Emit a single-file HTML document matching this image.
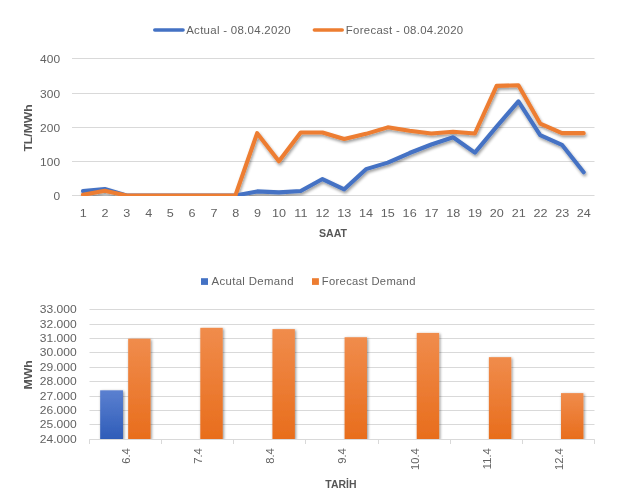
<!DOCTYPE html>
<html><head><meta charset="utf-8"><style>
html,body{margin:0;padding:0;background:#fff;width:625px;height:488px;overflow:hidden}
svg{display:block;will-change:transform;font-family:"Liberation Sans",sans-serif}
</style></head><body>
<svg width="625" height="488" viewBox="0 0 625 488">
<defs>
<filter id="sh" x="-10%" y="-10%" width="120%" height="130%">
<feGaussianBlur in="SourceAlpha" stdDeviation="1.4"/>
<feOffset dx="1" dy="1.8" result="b"/>
<feComponentTransfer><feFuncA type="linear" slope="0.4"/></feComponentTransfer>
<feMerge><feMergeNode/><feMergeNode in="SourceGraphic"/></feMerge>
</filter>
<linearGradient id="gb" x1="0" y1="0" x2="0" y2="1">
<stop offset="0" stop-color="#5b80d0"/><stop offset="1" stop-color="#2e5cb8"/>
</linearGradient>
<linearGradient id="go" x1="0" y1="0" x2="0" y2="1">
<stop offset="0" stop-color="#f08c4c"/><stop offset="1" stop-color="#e86d1c"/>
</linearGradient>
<filter id="shb" x="-30%" y="-10%" width="160%" height="120%">
<feGaussianBlur in="SourceAlpha" stdDeviation="1.5"/>
<feOffset dx="0.6" dy="0.6" result="b"/>
<feComponentTransfer><feFuncA type="linear" slope="0.45"/></feComponentTransfer>
<feMerge><feMergeNode/><feMergeNode in="SourceGraphic"/></feMerge>
</filter>
<clipPath id="pa2"><rect x="85" y="290" width="520" height="149"/></clipPath>
<clipPath id="pa1"><rect x="60" y="40" width="545" height="156"/></clipPath>
</defs>

<line x1="72" x2="594.5" y1="195.5" y2="195.5" stroke="#d9d9d9" stroke-width="1"/>
<line x1="72" x2="594.5" y1="161.5" y2="161.5" stroke="#d9d9d9" stroke-width="1"/>
<line x1="72" x2="594.5" y1="127.5" y2="127.5" stroke="#d9d9d9" stroke-width="1"/>
<line x1="72" x2="594.5" y1="93.5" y2="93.5" stroke="#d9d9d9" stroke-width="1"/>
<line x1="72" x2="594.5" y1="58.5" y2="58.5" stroke="#d9d9d9" stroke-width="1"/>
<text transform="translate(53.39,199.69) scale(1.0600,1)" font-size="11.27" fill="#626262">0</text>
<text transform="translate(40.10,165.69) scale(1.0600,1)" font-size="11.27" fill="#626262">100</text>
<text transform="translate(40.10,131.69) scale(1.0600,1)" font-size="11.27" fill="#626262">200</text>
<text transform="translate(40.10,97.69) scale(1.0600,1)" font-size="11.27" fill="#626262">300</text>
<text transform="translate(40.10,62.69) scale(1.0600,1)" font-size="11.27" fill="#626262">400</text>
<text transform="translate(79.64,217.00) scale(1.1200,1)" font-size="11.27" fill="#626262">1</text>
<text transform="translate(101.54,217.00) scale(1.1200,1)" font-size="11.27" fill="#626262">2</text>
<text transform="translate(123.37,217.00) scale(1.1200,1)" font-size="11.27" fill="#626262">3</text>
<text transform="translate(145.14,217.00) scale(1.1200,1)" font-size="11.27" fill="#626262">4</text>
<text transform="translate(166.85,217.00) scale(1.1200,1)" font-size="11.27" fill="#626262">5</text>
<text transform="translate(188.55,217.00) scale(1.1200,1)" font-size="11.27" fill="#626262">6</text>
<text transform="translate(210.39,217.00) scale(1.1200,1)" font-size="11.27" fill="#626262">7</text>
<text transform="translate(232.16,217.00) scale(1.1200,1)" font-size="11.27" fill="#626262">8</text>
<text transform="translate(253.99,217.00) scale(1.1200,1)" font-size="11.27" fill="#626262">9</text>
<text transform="translate(272.00,217.00) scale(1.1200,1)" font-size="11.27" fill="#626262">10</text>
<text transform="translate(294.30,217.00) scale(1.1200,1)" font-size="11.27" fill="#626262">11</text>
<text transform="translate(315.60,217.00) scale(1.1200,1)" font-size="11.27" fill="#626262">12</text>
<text transform="translate(337.31,217.00) scale(1.1200,1)" font-size="11.27" fill="#626262">13</text>
<text transform="translate(359.01,217.00) scale(1.1200,1)" font-size="11.27" fill="#626262">14</text>
<text transform="translate(380.85,217.00) scale(1.1200,1)" font-size="11.27" fill="#626262">15</text>
<text transform="translate(402.62,217.00) scale(1.1200,1)" font-size="11.27" fill="#626262">16</text>
<text transform="translate(424.45,217.00) scale(1.1200,1)" font-size="11.27" fill="#626262">17</text>
<text transform="translate(446.16,217.00) scale(1.1200,1)" font-size="11.27" fill="#626262">18</text>
<text transform="translate(467.99,217.00) scale(1.1200,1)" font-size="11.27" fill="#626262">19</text>
<text transform="translate(489.82,217.00) scale(1.1200,1)" font-size="11.27" fill="#626262">20</text>
<text transform="translate(511.66,217.00) scale(1.1200,1)" font-size="11.27" fill="#626262">21</text>
<text transform="translate(533.43,217.00) scale(1.1200,1)" font-size="11.27" fill="#626262">22</text>
<text transform="translate(555.13,217.00) scale(1.1200,1)" font-size="11.27" fill="#626262">23</text>
<text transform="translate(576.84,217.00) scale(1.1200,1)" font-size="11.27" fill="#626262">24</text>
<text transform="translate(318.89,236.69) scale(0.9425,1)" font-size="11.27" font-weight="bold" fill="#565656">SAAT</text>
<text transform="translate(31.90,151.52) rotate(-90) scale(1.0906,1)" font-size="11.10" font-weight="bold" fill="#565656">TL/MWh</text>
<g clip-path="url(#pa1)"><g filter="url(#sh)">
<polyline points="83.00,191.05 104.77,188.99 126.54,195.50 148.31,195.50 170.08,195.50 191.85,195.50 213.62,195.50 235.39,195.50 257.16,191.39 278.93,192.42 300.70,191.05 322.47,179.06 344.24,189.34 366.01,169.13 387.78,162.62 409.55,153.03 431.32,144.47 453.09,137.28 474.86,152.69 496.63,126.66 518.40,101.31 540.17,135.22 561.94,144.81 583.71,172.21" fill="none" stroke="#4472c4" stroke-width="4.1" stroke-linejoin="round" stroke-linecap="round"/>
<polyline points="83.00,194.81 104.77,190.71 126.54,195.50 148.31,195.50 170.08,195.50 191.85,195.50 213.62,195.50 235.39,195.50 257.16,133.16 278.93,161.25 300.70,132.48 322.47,132.48 344.24,138.99 366.01,133.85 387.78,127.34 409.55,130.77 431.32,133.51 453.09,131.79 474.86,133.51 496.63,85.90 518.40,85.21 540.17,123.57 561.94,133.16 583.71,133.16" fill="none" stroke="#ed7d31" stroke-width="4.1" stroke-linejoin="round" stroke-linecap="round"/>
</g></g>
<line x1="154.8" x2="183" y1="30" y2="30" stroke="#4472c4" stroke-width="3.6" stroke-linecap="round"/>
<text transform="translate(186.20,33.80) scale(0.9881,1)" font-size="11.60" letter-spacing="0.293" fill="#626262">Actual - 08.04.2020</text>
<line x1="314.4" x2="342.2" y1="30" y2="30" stroke="#ed7d31" stroke-width="3.6" stroke-linecap="round"/>
<text transform="translate(345.79,33.80) scale(0.9835,1)" font-size="11.60" letter-spacing="0.295" fill="#626262">Forecast - 08.04.2020</text>
<line x1="89.5" x2="594.5" y1="439.5" y2="439.5" stroke="#d9d9d9" stroke-width="1"/>
<line x1="89.5" x2="594.5" y1="424.5" y2="424.5" stroke="#d9d9d9" stroke-width="1"/>
<line x1="89.5" x2="594.5" y1="410.5" y2="410.5" stroke="#d9d9d9" stroke-width="1"/>
<line x1="89.5" x2="594.5" y1="396.5" y2="396.5" stroke="#d9d9d9" stroke-width="1"/>
<line x1="89.5" x2="594.5" y1="381.5" y2="381.5" stroke="#d9d9d9" stroke-width="1"/>
<line x1="89.5" x2="594.5" y1="367.5" y2="367.5" stroke="#d9d9d9" stroke-width="1"/>
<line x1="89.5" x2="594.5" y1="352.5" y2="352.5" stroke="#d9d9d9" stroke-width="1"/>
<line x1="89.5" x2="594.5" y1="338.5" y2="338.5" stroke="#d9d9d9" stroke-width="1"/>
<line x1="89.5" x2="594.5" y1="324.5" y2="324.5" stroke="#d9d9d9" stroke-width="1"/>
<line x1="89.5" x2="594.5" y1="309.5" y2="309.5" stroke="#d9d9d9" stroke-width="1"/>
<line x1="89.50" x2="89.50" y1="439.5" y2="444" stroke="#d9d9d9" stroke-width="1"/>
<line x1="161.50" x2="161.50" y1="439.5" y2="444" stroke="#d9d9d9" stroke-width="1"/>
<line x1="233.50" x2="233.50" y1="439.5" y2="444" stroke="#d9d9d9" stroke-width="1"/>
<line x1="305.50" x2="305.50" y1="439.5" y2="444" stroke="#d9d9d9" stroke-width="1"/>
<line x1="378.50" x2="378.50" y1="439.5" y2="444" stroke="#d9d9d9" stroke-width="1"/>
<line x1="450.50" x2="450.50" y1="439.5" y2="444" stroke="#d9d9d9" stroke-width="1"/>
<line x1="522.50" x2="522.50" y1="439.5" y2="444" stroke="#d9d9d9" stroke-width="1"/>
<line x1="594.50" x2="594.50" y1="439.5" y2="444" stroke="#d9d9d9" stroke-width="1"/>
<text transform="translate(39.74,443.25) scale(1.1200,1)" font-size="10.80" fill="#626262">24.000</text>
<text transform="translate(39.74,428.25) scale(1.1200,1)" font-size="10.80" fill="#626262">25.000</text>
<text transform="translate(39.74,414.25) scale(1.1200,1)" font-size="10.80" fill="#626262">26.000</text>
<text transform="translate(39.74,400.25) scale(1.1200,1)" font-size="10.80" fill="#626262">27.000</text>
<text transform="translate(39.74,385.25) scale(1.1200,1)" font-size="10.80" fill="#626262">28.000</text>
<text transform="translate(39.74,371.25) scale(1.1200,1)" font-size="10.80" fill="#626262">29.000</text>
<text transform="translate(39.74,356.25) scale(1.1200,1)" font-size="10.80" fill="#626262">30.000</text>
<text transform="translate(39.74,342.25) scale(1.1200,1)" font-size="10.80" fill="#626262">31.000</text>
<text transform="translate(39.74,328.25) scale(1.1200,1)" font-size="10.80" fill="#626262">32.000</text>
<text transform="translate(39.74,313.25) scale(1.1200,1)" font-size="10.80" fill="#626262">33.000</text>
<g clip-path="url(#pa2)"><g filter="url(#shb)">
<rect x="100.17" y="390.32" width="22.8" height="49.18" fill="url(#gb)"/>
<rect x="128.17" y="338.68" width="22.4" height="100.82" fill="url(#go)"/>
<rect x="200.31" y="327.82" width="22.4" height="111.68" fill="url(#go)"/>
<rect x="272.45" y="329.12" width="22.4" height="110.38" fill="url(#go)"/>
<rect x="344.59" y="337.24" width="22.4" height="102.26" fill="url(#go)"/>
<rect x="416.73" y="332.92" width="22.4" height="106.58" fill="url(#go)"/>
<rect x="488.87" y="357.17" width="22.4" height="82.33" fill="url(#go)"/>
<rect x="561.01" y="393.12" width="22.4" height="46.38" fill="url(#go)"/>
</g></g>
<line x1="89.5" x2="594.5" y1="439.5" y2="439.5" stroke="#d9d9d9" stroke-width="1"/>
<text transform="translate(129.99,463.78) rotate(-90) scale(1.0000,1)" font-size="11.20" fill="#626262">6.4</text>
<text transform="translate(202.13,463.78) rotate(-90) scale(1.0000,1)" font-size="11.20" fill="#626262">7.4</text>
<text transform="translate(274.27,463.78) rotate(-90) scale(1.0000,1)" font-size="11.20" fill="#626262">8.4</text>
<text transform="translate(346.41,463.78) rotate(-90) scale(1.0000,1)" font-size="11.20" fill="#626262">9.4</text>
<text transform="translate(418.55,470.01) rotate(-90) scale(1.0000,1)" font-size="11.20" fill="#626262">10.4</text>
<text transform="translate(490.69,469.17) rotate(-90) scale(1.0000,1)" font-size="11.20" fill="#626262">11.4</text>
<text transform="translate(562.83,470.01) rotate(-90) scale(1.0000,1)" font-size="11.20" fill="#626262">12.4</text>
<text transform="translate(325.30,488.00) scale(0.9304,1)" font-size="11.27" font-weight="bold" fill="#565656">TARİH</text>
<text transform="translate(32.00,389.54) rotate(-90) scale(1.1088,1)" font-size="11.10" font-weight="bold" fill="#565656">MWh</text>
<rect x="201" y="278.2" width="7" height="6.7" fill="#4472c4"/>
<text transform="translate(211.50,284.90) scale(1.0195,1)" font-size="11.20" letter-spacing="0.333" fill="#626262">Acutal Demand</text>
<rect x="312" y="278.2" width="6.9" height="6.7" fill="#ed7d31"/>
<text transform="translate(321.80,284.90) scale(1.0011,1)" font-size="11.20" letter-spacing="0.329" fill="#626262">Forecast Demand</text>
</svg></body></html>
